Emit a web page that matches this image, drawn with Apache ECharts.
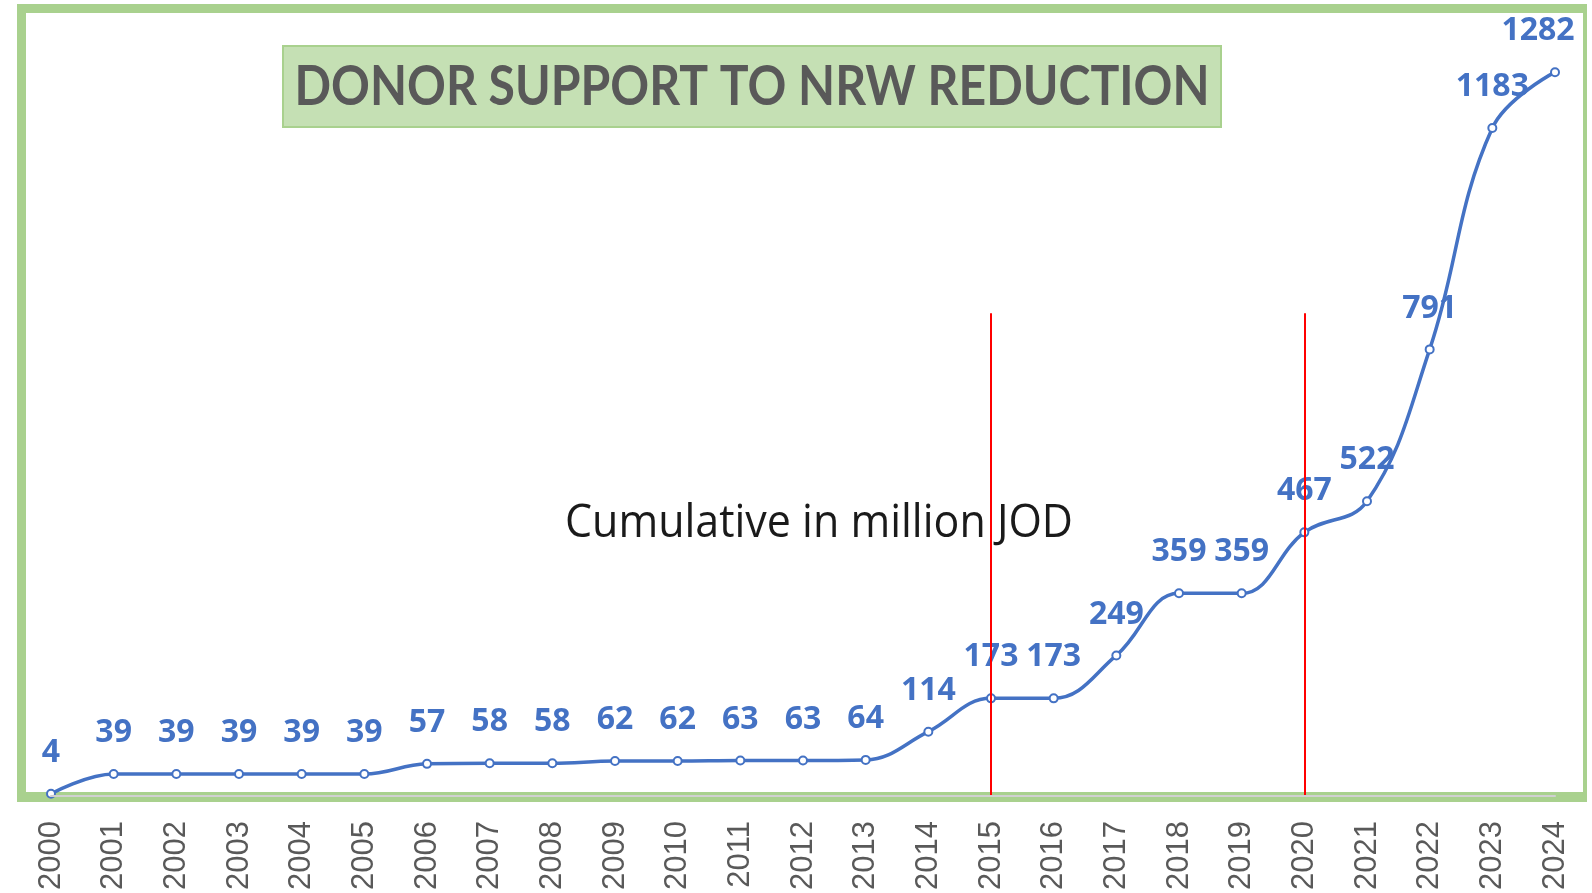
<!DOCTYPE html>
<html>
<head>
<meta charset="utf-8">
<script src="https://cdn.jsdelivr.net/npm/echarts@6/dist/echarts.min.js"></script>
<style>
  html, body { margin: 0; padding: 0; background: #fff; }
  #chart { width: 1592px; height: 893px; }
</style>
</head>
<body>
<div id="chart"></div>
<script>
const years = ['2000', '2001', '2002', '2003', '2004', '2005', '2006', '2007', '2008', '2009', '2010', '2011', '2012',
  '2013', '2014', '2015', '2016', '2017', '2018', '2019', '2020', '2021', '2022', '2023', '2024']
const cumulative = [4, 39, 39, 39, 39, 39, 57, 58, 58, 62, 62, 63, 63, 64, 114, 173, 173, 249, 359, 359, 467, 522, 791, 1183, 1282]
const markerYears = ['2015', '2020']
const titleText = 'DONOR SUPPORT TO NRW REDUCTION'
const noteText = 'Cumulative in million JOD'

const green = '#a9d18e'
const blue = '#4472c4'

// squeeze text horizontally so it takes the width of the original (Calibri is narrow)
function fitScale(text, font, width) {
  const ctx = document.createElement('canvas').getContext('2d')
  ctx.font = font
  return width / ctx.measureText(text).width
}

const titleFont = 'bold 55px Lato'
const noteFont = '46px "Open Sans"'

const chart = echarts.init(document.getElementById('chart'))

const seriesData = cumulative.map((v, i) => {
  if (i === cumulative.length - 1) return { value: v, label: { offset: [-17, 0] } }
  return v
})

chart.setOption({
  backgroundColor: '#fff',
  animation: false,
  grid: { left: 51, right: 37, top: 62, bottom: 96 },
  xAxis: {
    type: 'category',
    data: years,
    boundaryGap: false,
    z: 5,
    axisLine: { lineStyle: { color: '#d0d0d0', width: 2 } },
    axisTick: { show: false },
    axisLabel: {
      rotate: 90,
      margin: 25,
      color: '#595959',
      fontFamily: 'Liberation Sans',
      fontSize: 31,
    },
  },
  yAxis: {
    type: 'value',
    min: 0,
    max: 1300,
    show: false,
    splitLine: { show: false },
  },
  graphic: [
    // green frame around the plot
    { type: 'rect', z: 0, shape: { x: 17, y: 4, width: 9, height: 798 }, style: { fill: green } },
    { type: 'rect', z: 0, shape: { x: 17, y: 4, width: 1570, height: 9 }, style: { fill: green } },
    { type: 'rect', z: 0, shape: { x: 1583, y: 4, width: 4, height: 798 }, style: { fill: green } },
    { type: 'rect', z: 0, shape: { x: 17, y: 792, width: 1570, height: 10 }, style: { fill: green } },
    // title box
    {
      type: 'rect', z: 1,
      shape: { x: 283, y: 46, width: 938, height: 81 },
      style: { fill: '#c5e0b4', stroke: green, lineWidth: 2 },
    },
    {
      type: 'text', z: 2,
      x: 752, y: 87,
      scaleX: fitScale(titleText, titleFont, 915),
      style: {
        text: titleText,
        font: titleFont,
        fill: '#595959',
        align: 'center',
        verticalAlign: 'middle',
      },
    },
    {
      type: 'text', z: 2,
      x: 819, y: 524,
      scaleX: fitScale(noteText, noteFont, 508),
      style: {
        text: noteText,
        font: noteFont,
        fill: '#1a1a1a',
        align: 'center',
        verticalAlign: 'middle',
      },
    },
  ],
  series: [{
    name: 'Cumulative',
    type: 'line',
    smooth: 0.4,
    data: seriesData,
    symbol: 'emptyCircle',
    symbolSize: 8,
    lineStyle: { color: blue, width: 3.5 },
    itemStyle: { color: blue, borderWidth: 1.5 },
    label: {
      show: true,
      position: 'top',
      distance: 20,
      color: blue,
      fontFamily: 'Open Sans',
      fontWeight: 'bold',
      fontSize: 32,
    },
    markLine: {
      silent: true,
      symbol: 'none',
      label: { show: false },
      lineStyle: { color: '#ff0000', width: 2, type: 'solid' },
      data: markerYears.map(y => [{ coord: [y, 855] }, { coord: [y, 0] }]),
    },
  }],
})
</script>
</body>
</html>
